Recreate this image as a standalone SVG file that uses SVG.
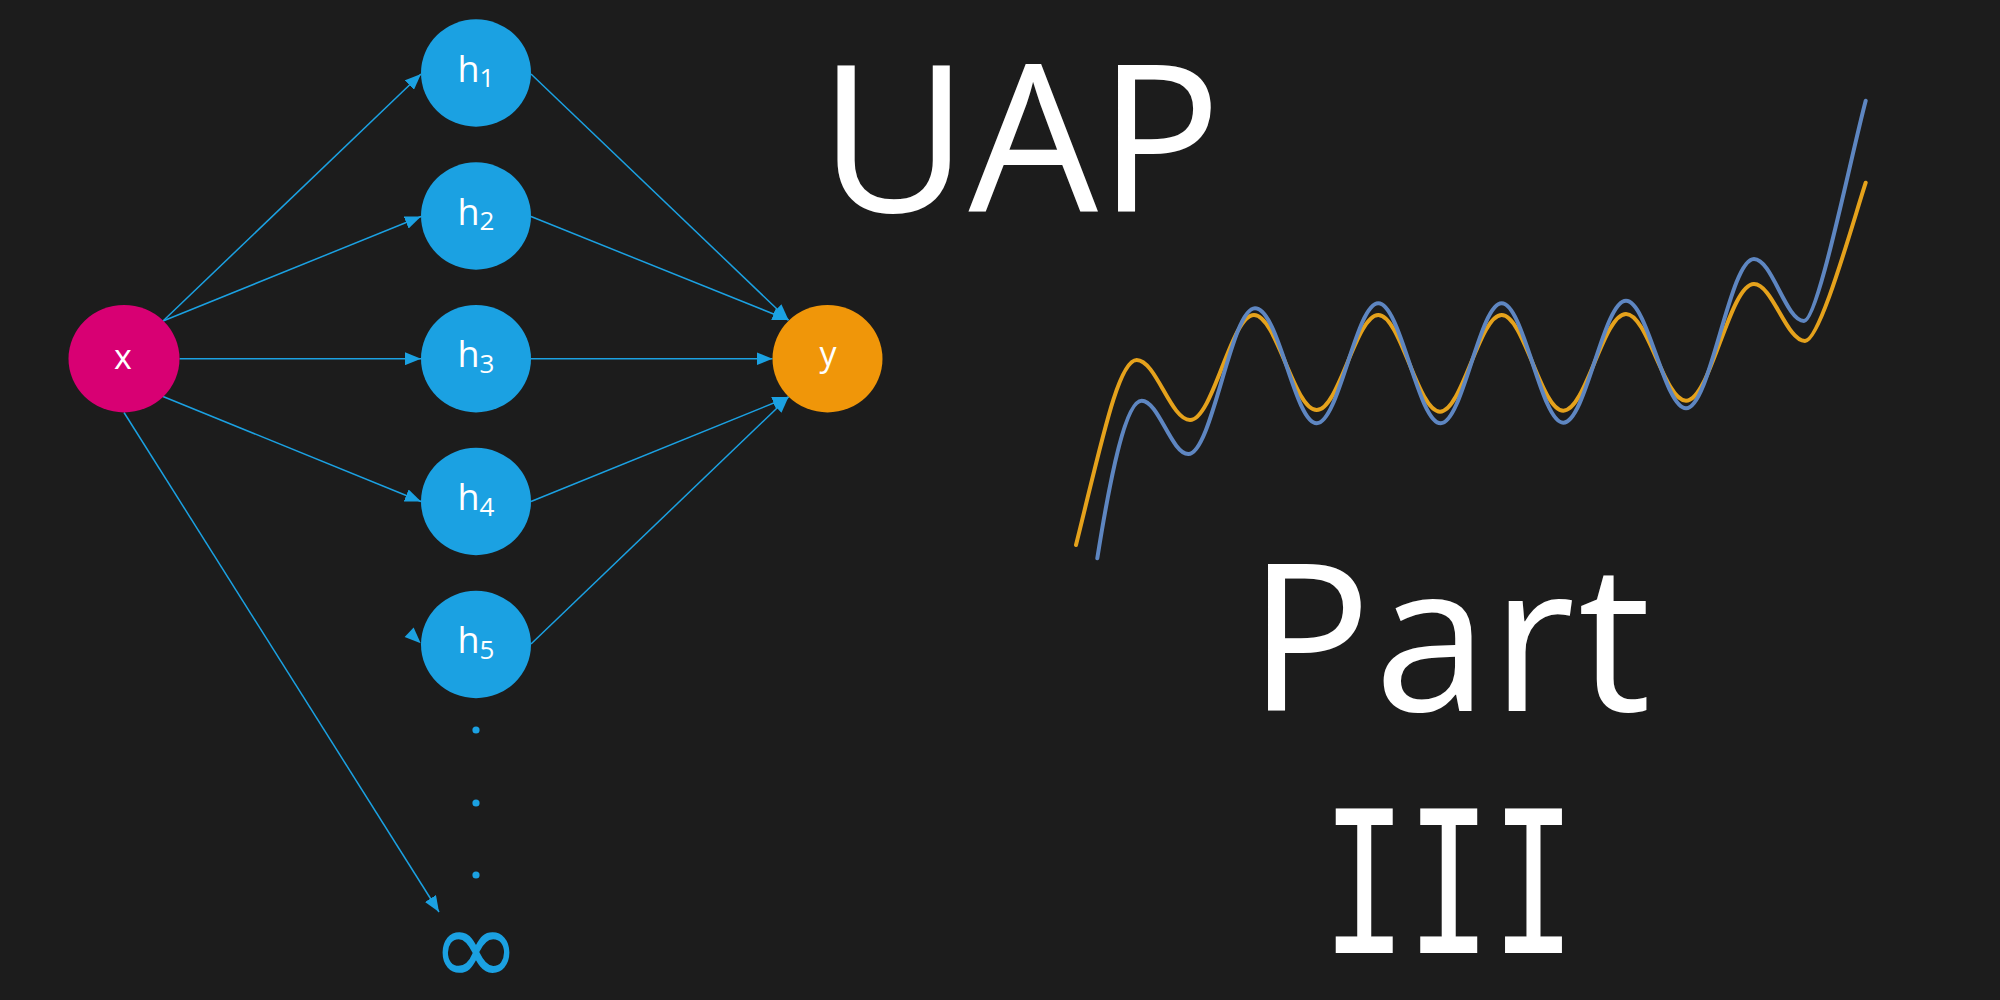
<svg xmlns="http://www.w3.org/2000/svg" width="2000" height="1000" viewBox="0 0 2000 1000">
<style>
.bg{fill:#1c1c1c}
.edge{stroke:#1ba1e2;stroke-width:1.5;fill:none}
.hn{fill:#1ba1e2}
.lbl{font-family:"Open Sans","Noto Sans",sans-serif;fill:#ffffff;font-size:36px;text-anchor:middle}
.sub{font-size:26px}
.big{font-family:"Open Sans","Noto Sans",sans-serif;fill:#ffffff;font-size:205px}
.curve{fill:none;stroke-width:4;stroke-linecap:round;stroke-linejoin:round}
</style>
<defs>
<marker id="arr" markerUnits="userSpaceOnUse" markerWidth="16" markerHeight="13" refX="16" refY="6.5" orient="auto">
<path d="M0,0 L16,6.5 L0,13 z" fill="#1ba1e2"/>
</marker>
</defs>
<rect class="bg" x="0" y="0" width="2000" height="1000"/>
<g id="connectors">
<line class="edge" x1="163" y1="321" x2="421" y2="74" marker-end="url(#arr)"/>
<line class="edge" x1="163" y1="321" x2="421" y2="216.5" marker-end="url(#arr)"/>
<line class="edge" x1="179.5" y1="358.7" x2="421" y2="358.7" marker-end="url(#arr)"/>
<line class="edge" x1="163" y1="396.5" x2="421" y2="501.5" marker-end="url(#arr)"/>
<line class="edge" x1="124" y1="412.5" x2="439" y2="912" marker-end="url(#arr)"/>
<line class="edge" x1="531" y1="74" x2="788.5" y2="320" marker-end="url(#arr)"/>
<line class="edge" x1="531" y1="216.5" x2="788.5" y2="320" marker-end="url(#arr)"/>
<line class="edge" x1="531" y1="358.7" x2="772.5" y2="358.7" marker-end="url(#arr)"/>
<line class="edge" x1="531" y1="501.5" x2="788.5" y2="397" marker-end="url(#arr)"/>
<line class="edge" x1="531" y1="644" x2="788.5" y2="397" marker-end="url(#arr)"/>
<path d="M-16,-6.5 L0,0 L-16,6.5 z" fill="#1ba1e2" transform="translate(420.7,643.3) rotate(43.7)"/>
</g>
<g id="node-x">
<ellipse cx="124" cy="358.7" rx="55.5" ry="53.7" fill="#d80073"/>
<text class="lbl" x="123" y="369.3" style="font-size:34px">x</text>
</g>
<g id="node-h1">
<ellipse class="hn" cx="476" cy="73" rx="55" ry="53.7"/>
<text class="lbl" x="476" y="81.7">h<tspan class="sub" dy="5.3">1</tspan></text>
</g>
<g id="node-h2">
<ellipse class="hn" cx="476" cy="216" rx="55" ry="53.7"/>
<text class="lbl" x="476" y="224.7">h<tspan class="sub" dy="5.3">2</tspan></text>
</g>
<g id="node-h3">
<ellipse class="hn" cx="476" cy="358.7" rx="55" ry="53.7"/>
<text class="lbl" x="476" y="367.4">h<tspan class="sub" dy="5.3">3</tspan></text>
</g>
<g id="node-h4">
<ellipse class="hn" cx="476" cy="501.5" rx="55" ry="53.7"/>
<text class="lbl" x="476" y="510.2">h<tspan class="sub" dy="5.3">4</tspan></text>
</g>
<g id="node-h5">
<ellipse class="hn" cx="476" cy="644.5" rx="55" ry="53.7"/>
<text class="lbl" x="476" y="653.2">h<tspan class="sub" dy="5.3">5</tspan></text>
</g>
<g id="node-y">
<ellipse cx="827.5" cy="358.7" rx="55" ry="53.7" fill="#f09609"/>
<text class="lbl" x="828" y="366" style="font-size:34px">y</text>
</g>
<g id="ellipsis">
<circle cx="476" cy="730" r="3.6" fill="#1ba1e2"/>
<circle cx="476" cy="803" r="3.6" fill="#1ba1e2"/>
<circle cx="476" cy="875" r="3.6" fill="#1ba1e2"/>
</g>
<g id="node-inf">
<text x="476" y="985" style="font-family:'DejaVu Sans',sans-serif;font-size:108px;fill:#1ba1e2;text-anchor:middle">∞</text>
</g>
<g id="plot">
<path class="curve" stroke="#e5a21c" d="M1076 545 C1101 445 1118 360 1136.7 360 C1155.9 360 1170.8 420 1190 420 C1213 420 1231 315 1254 315 C1276.6 315 1294.1 410 1316.7 410 C1338.9 410 1356.1 315 1378.3 315 C1400.5 315 1417.8 411.7 1440 411.7 C1462.2 411.7 1479.5 315 1501.7 315 C1523.9 315 1541.1 410.7 1563.3 410.7 C1585.9 410.7 1603.4 314 1626 314 C1647.6 314 1664.4 400.7 1686 400.7 C1710.5 400.7 1729.5 284 1754 284 C1772.4 284 1786.6 341 1805 341 C1820 341 1852 225 1865.7 182.7"/>
<path class="curve" stroke="#5e86c1" d="M1097.3 558.3 C1111 472 1126 400.7 1141.7 400.7 C1158.5 400.7 1171.5 454 1188.3 454 C1212.3 454 1231 308.3 1255 308.3 C1278.9 308.3 1294.5 423.3 1316.7 423.3 C1338.9 423.3 1356.1 303.3 1378.3 303.3 C1400.8 303.3 1418.2 423.3 1440.7 423.3 C1462.7 423.3 1479.7 303.3 1501.7 303.3 C1523.9 303.3 1541.1 422.7 1563.3 422.7 C1585.9 422.7 1603.4 300.7 1626 300.7 C1647.6 300.7 1664.4 408.3 1686 408.3 C1710.5 408.3 1729.5 259 1754 259 C1772 259 1786 321 1804 321 C1818 321 1850 160 1865.7 100.7"/>
</g>
<g id="title">
<text class="big" x="819" y="211.7">UAP</text>
<text class="big" x="1248" y="710.7" style="letter-spacing:3px">Part</text>
<text transform="translate(1448.9,952.7) scale(0.71,1)" x="0" y="0" style="font-family:'DejaVu Sans Mono',monospace;font-size:198px;fill:#ffffff;text-anchor:middle">III</text>
</g>
</svg>
